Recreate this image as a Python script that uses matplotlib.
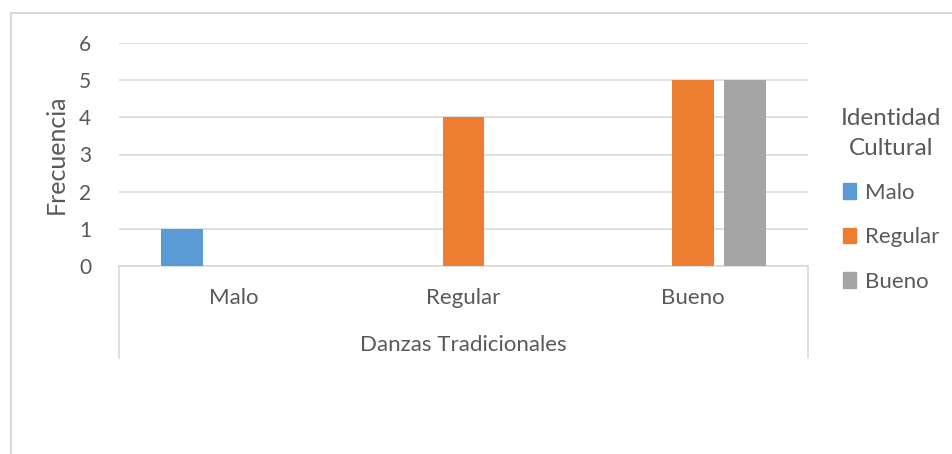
import numpy as np
import matplotlib
matplotlib.use("Agg")
import matplotlib.pyplot as plt
from matplotlib.lines import Line2D
from matplotlib.patches import Patch

plt.rcParams['font.family'] = ['Lato', 'DejaVu Sans']

# data
categories = ["Malo", "Regular", "Bueno"]
series_names = ["Malo", "Regular", "Bueno"]
malo = [1, 0, 0]
regular = [0, 4, 5]
bueno = [0, 0, 5]
colors = ["#5B9BD5", "#ED7D31", "#A5A5A5"]
txt = "#595959"
grid = "#D9D9D9"

W, H = 953, 454
fig = plt.figure(figsize=(W / 100, H / 100), dpi=100)
ax = fig.add_axes([119 / W, (H - 266) / H, (808 - 119) / W, (266 - 43) / H])

x = np.arange(len(categories))
width = 0.18
offs = [-0.225, 0, 0.225]
for vals, off, c in zip([malo, regular, bueno], offs, colors):
    ax.bar(x + off, vals, width, color=c, zorder=3)

ax.set_xlim(-0.5, 2.5)
ax.set_ylim(0, 6)
ax.set_yticks(range(7))
ax.yaxis.grid(True, color=grid, linewidth=1.2, zorder=0)
for s in ["top", "right", "left"]:
    ax.spines[s].set_visible(False)
ax.spines["bottom"].set_color(grid)
ax.spines["bottom"].set_linewidth(1.2)
ax.tick_params(axis="y", length=0, labelsize=15, labelcolor=txt, pad=20)
ax.set_xticks(x)
ax.set_xticklabels(categories)
ax.tick_params(axis="x", length=0, labelsize=16, labelcolor=txt, pad=16)
ax.set_ylabel("Frecuencia", fontsize=18, color=txt, labelpad=8)

# category axis outer lines
for xv in [0, 1]:
    ax.plot([xv, xv], [0, -0.413], transform=ax.transAxes, color=grid,
            linewidth=1.2, clip_on=False)
ax.text(0.5, -0.355, "Danzas Tradicionales", transform=ax.transAxes,
        ha="center", va="center", fontsize=16, color=txt)

# legend
handles = [Patch(color=c) for c in colors]
leg = fig.legend(handles, series_names, loc="center", bbox_to_anchor=(891 / W, (H - 200) / H),
                 frameon=False, fontsize=16, title="Identidad\nCultural",
                 title_fontsize=17.5, handlelength=0.6, handleheight=0.7,
                 handletextpad=0.4, labelspacing=1.1, labelcolor=txt)
leg.get_title().set_color(txt)
leg.get_title().set_multialignment("center")
leg.get_title().set_linespacing(1.5)

# outer chart frame
fig.add_artist(Line2D([11 / W, 1], [(H - 13) / H, (H - 13) / H], color=grid, linewidth=1.5))
fig.add_artist(Line2D([11 / W, 11 / W], [0, (H - 13) / H], color=grid, linewidth=1.5))

fig.savefig("out.png", dpi=100)
